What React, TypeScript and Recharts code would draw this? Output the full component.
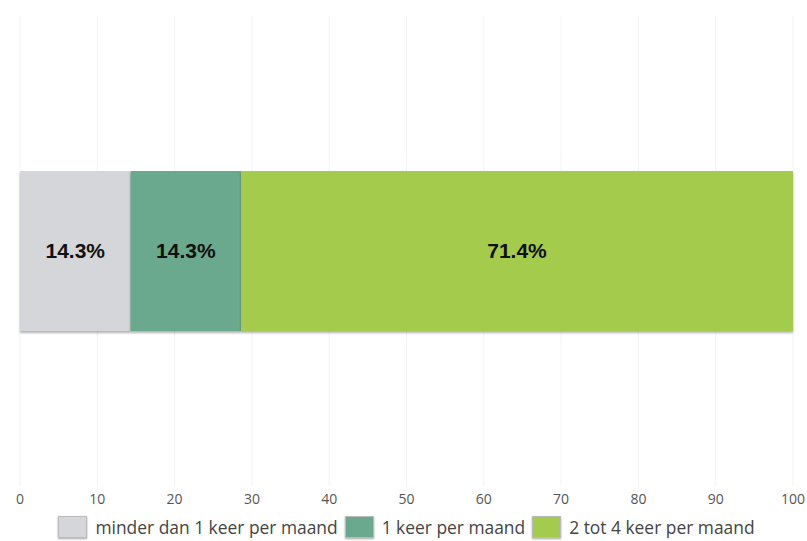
import { BarChart, Bar, XAxis, YAxis, CartesianGrid, Legend, LabelList } from 'recharts';

const categories = ['respons'];
const seriesNames = ['minder dan 1 keer per maand', '1 keer per maand', '2 tot 4 keer per maand'];
const seriesValues = [14.3, 14.3, 71.4];
const seriesColors = ['#d5d6da', '#6aa98d', '#a5cb4d'];
const xTicks = [0, 10, 20, 30, 40, 50, 60, 70, 80, 90, 100];

const data = categories.map((c) => {
  const row: Record<string, any> = { name: c };
  seriesNames.forEach((s, i) => {
    row[`s${i}`] = seriesValues[i];
  });
  return row;
});

function LegendContent() {
  return (
    <div
      style={{
        display: 'flex',
        justifyContent: 'center',
        alignItems: 'center',
        fontFamily: 'Open Sans',
        fontSize: 17.4,
        color: '#444',
      }}
    >
      {seriesNames.map((s, i) => (
        <div key={s} style={{ display: 'flex', alignItems: 'center', marginRight: i < 2 ? 7 : 0 }}>
          <span
            style={{
              display: 'inline-block',
              width: 27,
              height: 20,
              background: seriesColors[i],
              border: '1px solid #bbb',
              boxShadow: '0 1px 2px rgba(0,0,0,0.35)',
              marginRight: 8,
            }}
          />
          <span>{s}</span>
        </div>
      ))}
    </div>
  );
}

export default function App() {
  return (
    <div style={{ position: 'absolute', left: 0, top: 0, background: '#fff' }}>
      <style>{`.recharts-bar-rectangles { filter: drop-shadow(0 2px 1px rgba(0,0,0,0.3)); }`}</style>
      <BarChart
        width={807}
        height={541}
        data={data}
        layout="vertical"
        margin={{ top: 16, right: 14, left: 20, bottom: 2 }}
      >
        <CartesianGrid horizontal={false} stroke="#f3f3f3" />
        <XAxis
          type="number"
          domain={[0, 100]}
          ticks={xTicks}
          axisLine={false}
          tickLine={false}
          height={29}
          tick={{ fill: '#555', fontSize: 14, fontFamily: 'Open Sans' }}
        />
        <YAxis type="category" dataKey="name" hide />
        <Legend verticalAlign="bottom" content={<LegendContent />} />
        {seriesNames.map((s, i) => (
          <Bar
            key={s}
            dataKey={`s${i}`}
            name={s}
            stackId="a"
            fill={seriesColors[i]}
            barSize={160}
            isAnimationActive={false}
          >
            <LabelList
              dataKey={`s${i}`}
              position="center"
              formatter={(v: any) => `${v}%`}
              style={{ fill: '#111', fontSize: 21, fontWeight: 'bold', fontFamily: 'Liberation Sans, Arial' }}
            />
          </Bar>
        ))}
      </BarChart>
    </div>
  );
}
